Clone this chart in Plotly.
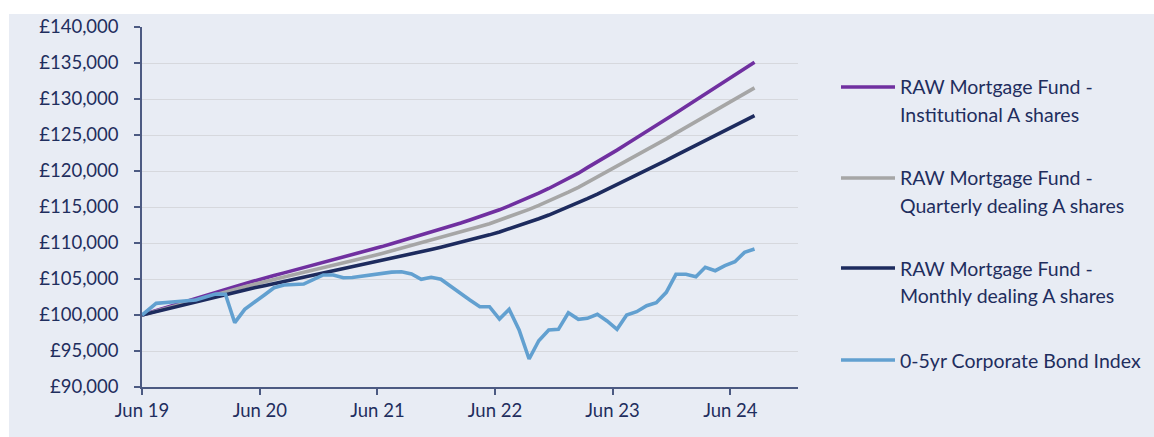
import datetime as dt
import plotly.graph_objects as go

# ---- data -------------------------------------------------------------
# first point is the start date; following points are mid-month valuations
start_date = "2019-06-01"
dates = [start_date] + [
    dt.date(2019 + (6 + i) // 12, (6 + i) % 12 + 1, 15).isoformat() for i in range(62)
]

institutional = [100000, 100620, 101040, 101450, 101870, 102280, 102700, 103110, 103530, 103940,
                 104360, 104770, 105130, 105490, 105850, 106210, 106570, 106940, 107300, 107660,
                 108020, 108390, 108750, 109110, 109500, 109900, 110300, 110700, 111110, 111520,
                 111930, 112350, 112770, 113200, 113640, 114090, 114610, 115150, 115710, 116300,
                 116920, 117570, 118250, 118960, 119700, 120470, 121260, 122070, 122900, 123740,
                 124590, 125450, 126320, 127190, 128070, 128960, 129850, 130740, 131630, 132520,
                 133400, 134270, 135120]

quarterly = [100000, 100560, 100940, 101310, 101680, 102050, 102430, 102800, 103180, 103550,
             103920, 104290, 104620, 104940, 105270, 105590, 105910, 106250, 106570, 106890,
             107220, 107550, 107880, 108200, 108550, 108910, 109270, 109630, 110000, 110370,
             110740, 111120, 111490, 111880, 112280, 112680, 113150, 113640, 114140, 114670,
             115230, 115810, 116430, 117060, 117730, 118420, 119130, 119860, 120610, 121370,
             122130, 122910, 123690, 124470, 125260, 126060, 126870, 127670, 128470, 129270,
             130060, 130840, 131550]

monthly = [100000, 100490, 100820, 101150, 101480, 101800, 102130, 102460, 102790, 103110,
           103440, 103770, 104050, 104340, 104620, 104910, 105190, 105480, 105770, 106050,
           106340, 106630, 106910, 107200, 107510, 107820, 108140, 108450, 108780, 109100,
           109420, 109760, 110090, 110430, 110780, 111130, 111540, 111970, 112410, 112880,
           113370, 113880, 114420, 114980, 115560, 116170, 116800, 117440, 118090, 118760,
           119430, 120110, 120790, 121480, 122180, 122880, 123580, 124290, 124990, 125690,
           126390, 127070, 127700]

bond_index = [100000, 101620, 101740, 101850, 101850, 102080, 102500, 102920, 102880, 98930,
              100790, 101710, 102780, 103790, 104170, 104240, 104300, 104960, 105560, 105560,
              105180, 105200, 105400, 105600, 105800, 105950, 106010, 105700, 104960, 105240,
              104960, 103930, 103010, 102080, 101150, 101150, 99440, 100790, 97920, 93890,
              96430, 97920, 98010, 100320, 99400, 99540, 100100, 99170, 98010, 100000,
              100460, 101290, 101710, 103150, 105650, 105650, 105320, 106620, 106150, 106850,
              107400, 108700, 109170]

tick_dates = ["2019-06-01", "2020-06-01", "2021-06-01", "2022-06-01", "2023-06-01", "2024-06-01"]
tick_labels = ["Jun 19", "Jun 20", "Jun 21", "Jun 22", "Jun 23", "Jun 24"]

series_names = [
    ["RAW Mortgage Fund -", "Institutional A shares"],
    ["RAW Mortgage Fund -", "Quarterly dealing A shares"],
    ["RAW Mortgage Fund -", "Monthly dealing A shares"],
    ["0-5yr Corporate Bond Index"],
]
series_values = [institutional, quarterly, monthly, bond_index]
series_colors = ["#7030A0", "#A6A6A6", "#1D2B5E", "#62A0D0"]

# ---- layout geometry (pixels) ------------------------------------------
W, H = 1154, 437
L, R, T, B = 142, 798, 27, 387
pw, ph = R - L, B - T


def px_x(x):
    return (x - L) / pw


def px_y(y):
    return (B - y) / ph


TEXT = "#1F2E5E"
AXIS = "#4C5A82"
FONT = "Lato"

fig = go.Figure()
for name, vals, col in zip(series_names, series_values, series_colors):
    fig.add_trace(go.Scatter(
        x=dates, y=vals, mode="lines", name=" ".join(name),
        line=dict(color=col, width=3.6), showlegend=False,
        hovertemplate="%{x}<br>£%{y:,}<extra></extra>",
    ))

shapes = [dict(type="rect", xref="paper", yref="paper", layer="below",
               x0=px_x(9), x1=px_x(W + 5), y0=px_y(H + 5), y1=px_y(14),
               fillcolor="#E8ECF4", line=dict(width=0))]
annotations = []

legend_y = [87, 178, 268, 360]
for name, col, yy in zip(series_names, series_colors, legend_y):
    shapes.append(dict(type="line", xref="paper", yref="paper",
                       x0=px_x(841), x1=px_x(895), y0=px_y(yy), y1=px_y(yy),
                       line=dict(color=col, width=3.6)))
    for j, line_txt in enumerate(name):
        annotations.append(dict(xref="paper", yref="paper", x=px_x(898), y=px_y(yy + 27 * j),
                                text=line_txt, showarrow=False, xanchor="left", yanchor="middle",
                                font=dict(family=FONT, size=19.5, color=TEXT)))

fig.update_layout(
    width=W, height=H,
    margin=dict(l=L, r=W - R, t=T, b=H - B, pad=0),
    paper_bgcolor="white", plot_bgcolor="rgba(0,0,0,0)",
    font=dict(family=FONT, size=18.5, color=TEXT),
    shapes=shapes, annotations=annotations,
    showlegend=False,
)
fig.update_xaxes(
    type="date", range=["2019-06-01", "2024-12-28"],
    tickvals=tick_dates, ticktext=tick_labels,
    showgrid=False, showline=True, linecolor=AXIS, linewidth=1.5,
    ticks="outside", ticklen=6, tickwidth=1.5, tickcolor=AXIS,
    tickfont=dict(family=FONT, size=18.5, color=TEXT), zeroline=False,
)
fig.update_yaxes(
    range=[90000, 140000], dtick=5000, tick0=90000,
    tickprefix="£", tickformat=",d",
    showgrid=True, gridcolor="#D6D8DD", gridwidth=1,
    showline=True, linecolor=AXIS, linewidth=1.5,
    ticks="outside", ticklen=6, tickwidth=1.5, tickcolor=AXIS,
    ticklabelstandoff=12,
    tickfont=dict(family=FONT, size=18.5, color=TEXT), zeroline=False,
)

fig.write_html("out.html")
